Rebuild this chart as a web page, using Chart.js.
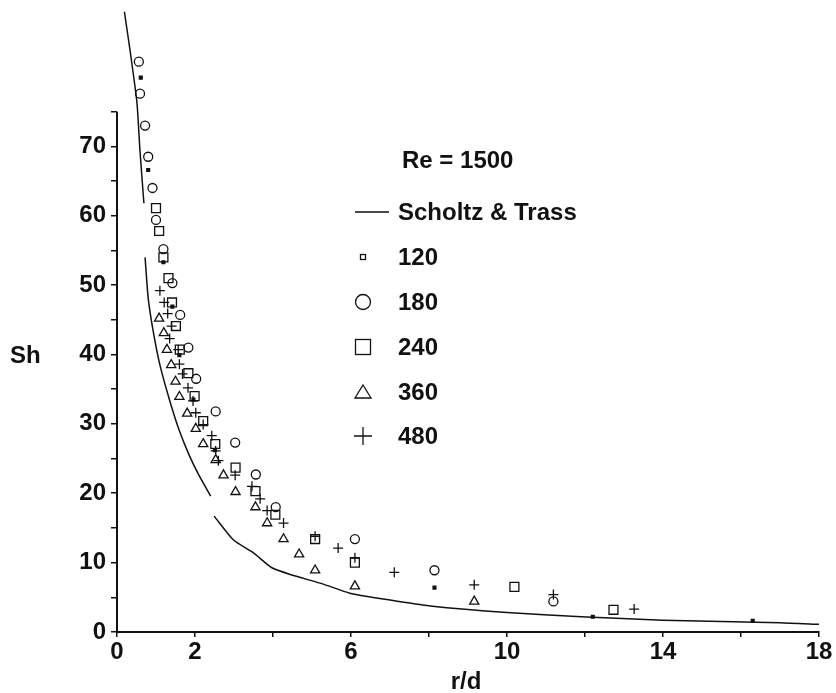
<!DOCTYPE html>
<html><head><meta charset="utf-8">
<script src="https://cdn.jsdelivr.net/npm/chart.js@4"></script>
<style>html,body{margin:0;padding:0;background:#fff}</style>
</head><body>
<canvas id="c" width="836" height="693"></canvas>
<script>
// ---- data ----
const xTicksShown = [0, 2, 6, 10, 14, 18];
const yTicksShown = [0, 10, 20, 30, 40, 50, 60, 70];
const yAxisTop = 75;   // the drawn y axis stops at 75

// Scholtz & Trass curve (null = break in the curve)
const lineX = [0.19, 0.33, 0.51, 0.59, 0.69, 0.70, 0.72, 0.80, 0.93, 1.10, 1.36, 1.60, 1.85, 2.10, 2.40, 2.45, 2.49, 2.98, 3.50, 3.96, 4.44, 5.29, 5.97, 7.00, 8.03, 10.0, 11.9, 14.0, 17.0, 18.0];
const lineY = [89.4, 84.0, 76.4, 69.3, 61.8, null, 54.0, 48.1, 43.3, 38.5, 33.2, 29.0, 25.5, 22.6, 19.6, null, 16.7, 13.3, 11.4, 9.3, 8.3, 6.9, 5.6, 4.6, 3.75, 2.8, 2.2, 1.7, 1.35, 1.1];

// Re = 120
const s120X = [0.61, 0.80, 1.19, 1.42, 1.60, 1.96, 2.51, 8.14, 12.2, 16.3];
const s120Y = [79.9, 66.6, 53.3, 46.9, 39.9, 33.5, 26.2, 6.4, 2.2, 1.6];
// Re = 180
const s180X = [0.56, 0.59, 0.72, 0.80, 0.91, 1.00, 1.19, 1.42, 1.62, 1.83, 2.03, 2.53, 3.03, 3.56, 4.07, 6.10, 8.14, 11.19];
const s180Y = [82.2, 77.6, 73.0, 68.5, 64.0, 59.4, 55.2, 50.3, 45.7, 41.0, 36.5, 31.8, 27.3, 22.7, 18.0, 13.4, 8.9, 4.4];
// Re = 240
const s240X = [1.00, 1.08, 1.19, 1.32, 1.41, 1.51, 1.61, 1.83, 1.99, 2.21, 2.52, 3.04, 3.55, 4.06, 5.08, 6.10, 10.19, 12.73];
const s240Y = [61.1, 57.8, 54.0, 51.0, 47.5, 44.1, 40.7, 37.3, 34.0, 30.4, 27.1, 23.7, 20.3, 16.9, 13.4, 10.0, 6.5, 3.2];
// Re = 360
const s360X = [1.08, 1.20, 1.28, 1.39, 1.50, 1.60, 1.80, 2.02, 2.21, 2.53, 2.73, 3.04, 3.55, 3.85, 4.27, 4.67, 5.08, 6.10, 9.16];
const s360Y = [45.2, 43.1, 40.7, 38.5, 36.1, 33.9, 31.5, 29.3, 27.1, 24.8, 22.6, 20.2, 18.0, 15.7, 13.4, 11.2, 8.9, 6.6, 4.4];
// Re = 480
const s480X = [1.10, 1.21, 1.30, 1.40, 1.35, 1.57, 1.60, 1.68, 1.82, 1.95, 2.02, 2.21, 2.43, 2.53, 2.60, 3.03, 3.46, 3.67, 3.85, 4.27, 5.08, 5.67, 6.10, 7.11, 9.16, 11.19, 13.26];
const s480Y = [49.2, 47.5, 45.9, 44.1, 42.3, 40.7, 38.6, 37.2, 35.2, 33.3, 31.6, 29.9, 28.3, 26.1, 24.7, 22.6, 21.0, 19.2, 17.5, 15.7, 13.8, 12.1, 10.7, 8.6, 6.8, 5.4, 3.3];

const legendTitle = 'Re = 1500';
const legendLabels = ['Scholtz & Trass', '120', '180', '240', '360', '480'];
const xTitle = 'r/d';
const yTitle = 'Sh';

// ---- chart ----
const INK = '#111';
const FONT = "'Liberation Sans', Arial, Helvetica, sans-serif";
const toPts = (xs, ys) => xs.map((x, i) => ({ x: x, y: ys[i] }));

function markerSet(label, xs, ys, style, r) {
  return {
    label: label, data: toPts(xs, ys), showLine: false,
    pointStyle: style, pointRadius: r, pointHoverRadius: r,
    pointBorderColor: INK, pointBorderWidth: 1.3,
    pointBackgroundColor: style === 'rect' && r < 3 ? INK : 'rgba(0,0,0,0)',
    clip: false
  };
}

const overlay = {
  id: 'overlay',
  afterDraw(chart) {
    const ctx = chart.ctx;
    const ys = chart.scales.y, xs = chart.scales.x;
    ctx.save();
    ctx.fillStyle = INK; ctx.strokeStyle = INK;
    // y axis line from 0 to 75
    ctx.lineWidth = 2;
    const ax = xs.getPixelForValue(0);
    ctx.beginPath(); ctx.moveTo(ax, ys.getPixelForValue(0) + 1); ctx.lineTo(ax, ys.getPixelForValue(yAxisTop)); ctx.stroke();
    ctx.font = 'bold 24px ' + FONT;
    ctx.textBaseline = 'middle'; ctx.textAlign = 'left';
    // axis titles
    ctx.fillText(yTitle, 10, 356);
    ctx.textAlign = 'center';
    ctx.fillText(xTitle, 466, 682);
    ctx.textAlign = 'left';
    // legend
    ctx.fillText(legendTitle, 402, 161);
    const sx = 363, tx = 398;
    const rows = [212, 257, 302, 347, 392, 436];
    rows.forEach((y, i) => ctx.fillText(legendLabels[i], tx, y + 1));
    ctx.lineWidth = 1.3;
    ctx.beginPath(); ctx.moveTo(355, rows[0]); ctx.lineTo(389, rows[0]); ctx.stroke();
    ctx.strokeRect(sx - 2.5, rows[1] - 2.5, 5, 5);
    ctx.beginPath(); ctx.arc(sx, rows[2], 7.5, 0, Math.PI * 2); ctx.stroke();
    ctx.strokeRect(sx - 7.5, rows[3] - 7.5, 15, 15);
    ctx.beginPath(); ctx.moveTo(sx, rows[4] - 7); ctx.lineTo(sx + 8, rows[4] + 6); ctx.lineTo(sx - 8, rows[4] + 6); ctx.closePath(); ctx.stroke();
    ctx.beginPath(); ctx.moveTo(sx - 9, rows[5]); ctx.lineTo(sx + 9, rows[5]);
    ctx.moveTo(sx, rows[5] - 9); ctx.lineTo(sx, rows[5] + 9); ctx.stroke();
    ctx.restore();
  }
};

new Chart(document.getElementById('c'), {
  type: 'scatter',
  data: {
    datasets: [
      { label: 'Scholtz & Trass', data: toPts(lineX, lineY), showLine: true, spanGaps: false,
        borderColor: INK, borderWidth: 1.5, pointRadius: 0, pointHoverRadius: 0, tension: 0.2, clip: false },
      markerSet('120', s120X, s120Y, 'rect', 2),
      markerSet('180', s180X, s180Y, 'circle', 4.5),
      markerSet('240', s240X, s240Y, 'rect', 6.3),
      markerSet('360', s360X, s360Y, 'triangle', 5.3),
      markerSet('480', s480X, s480Y, 'cross', 5)
    ]
  },
  options: {
    responsive: false, animation: false, events: [],
    layout: { padding: { left: 0, top: 5.6, right: 17, bottom: 0 } },
    plugins: { legend: { display: false }, tooltip: { enabled: false } },
    scales: {
      x: {
        type: 'linear', min: 0, max: 18,
        afterFit: s => { s.height = 61; s.paddingLeft = 0; s.paddingRight = 0; },
        ticks: { stepSize: 2, autoSkip: false, maxRotation: 0, color: INK, padding: 1,
          font: { family: FONT, size: 24, weight: 'bold' },
          callback: v => xTicksShown.includes(v) ? String(v) : '' },
        grid: { display: true, drawOnChartArea: false, drawTicks: true, tickLength: 5, color: INK, lineWidth: 1.5 },
        border: { display: true, color: INK, width: 2 }
      },
      y: {
        type: 'linear', min: 0, max: 90,
        afterFit: s => { s.width = 117; s.paddingTop = 0; s.paddingBottom = 0; },
        afterBuildTicks: s => { s.ticks = s.ticks.filter(t => t.value <= yAxisTop); },
        ticks: { stepSize: 5, autoSkip: false, color: INK, padding: 5,
          font: { family: FONT, size: 24, weight: 'bold' },
          callback: v => yTicksShown.includes(v) ? String(v) : '' },
        grid: { display: true, drawOnChartArea: false, drawTicks: true, tickLength: 6, color: INK, lineWidth: 1.5 },
        border: { display: false }
      }
    }
  },
  plugins: [overlay]
});
</script>
</body></html>
